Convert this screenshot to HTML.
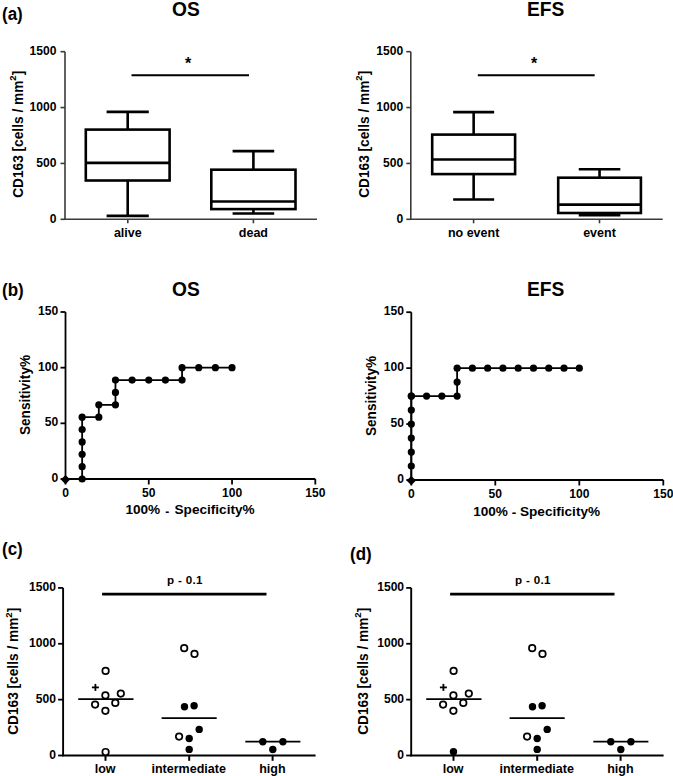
<!DOCTYPE html>
<html><head><meta charset="utf-8"><style>
html,body{margin:0;padding:0;background:#fff;}
body{width:673px;height:776px;overflow:hidden;}
svg{display:block;}
text{font-family:"Liberation Sans", sans-serif;font-weight:bold;fill:#000;}
</style></head><body>
<svg width="673" height="776" viewBox="0 0 673 776" stroke="#000" stroke-linecap="butt">
<g>
<text stroke="none" x="0" y="0" font-size="17" text-anchor="start" transform="translate(2,20.3) scale(1,1.06)" >(a)</text>
<g stroke="#3a3a3a">
<line x1="65.0" y1="51.7" x2="65.0" y2="220.10000000000002" stroke-width="1.6"/>
<line x1="60.5" y1="219.3" x2="65.0" y2="219.3" stroke-width="1.6"/>
<text stroke="none" x="56.4" y="222.9" font-size="12.1" text-anchor="end" >0</text>
<line x1="60.5" y1="163.43" x2="65.0" y2="163.43" stroke-width="1.6"/>
<text stroke="none" x="56.4" y="167.03" font-size="12.1" text-anchor="end" >500</text>
<line x1="60.5" y1="107.56000000000002" x2="65.0" y2="107.56000000000002" stroke-width="1.6"/>
<text stroke="none" x="56.4" y="111.16000000000001" font-size="12.1" text-anchor="end" >1000</text>
<line x1="60.5" y1="51.690000000000026" x2="65.0" y2="51.690000000000026" stroke-width="1.6"/>
<text stroke="none" x="56.4" y="55.29000000000003" font-size="12.1" text-anchor="end" >1500</text>
<line x1="64.2" y1="219.3" x2="317" y2="219.3" stroke-width="1.6"/>
<line x1="127.8" y1="219.3" x2="127.8" y2="223.3" stroke-width="1.6"/>
<line x1="253.4" y1="219.3" x2="253.4" y2="223.3" stroke-width="1.6"/>
</g>
<text stroke="none" x="127.8" y="236.5" font-size="12.5" text-anchor="middle" >alive</text>
<text stroke="none" x="253.4" y="236.5" font-size="12.5" text-anchor="middle" >dead</text>
<line x1="127.69999999999999" y1="111.9" x2="127.69999999999999" y2="129.6" stroke-width="2.6"/>
<line x1="127.69999999999999" y1="180.5" x2="127.69999999999999" y2="215.9" stroke-width="2.6"/>
<line x1="106.6" y1="111.9" x2="148.79999999999998" y2="111.9" stroke-width="2.6"/>
<line x1="106.6" y1="215.9" x2="148.79999999999998" y2="215.9" stroke-width="2.6"/>
<rect x="85.8" y="129.6" width="83.80" height="50.90" fill="none" stroke-width="2.6"/>
<line x1="85.8" y1="162.9" x2="169.6" y2="162.9" stroke-width="2.6"/>
<line x1="253.4" y1="151.1" x2="253.4" y2="169.7" stroke-width="2.6"/>
<line x1="253.4" y1="209.1" x2="253.4" y2="213.5" stroke-width="2.6"/>
<line x1="232.6" y1="151.1" x2="274.2" y2="151.1" stroke-width="2.6"/>
<line x1="232.6" y1="213.5" x2="274.2" y2="213.5" stroke-width="2.6"/>
<rect x="211.3" y="169.7" width="84.20" height="39.40" fill="none" stroke-width="2.6"/>
<line x1="211.3" y1="201.5" x2="295.5" y2="201.5" stroke-width="2.6"/>
<line x1="131.5" y1="75.2" x2="249" y2="75.2" stroke-width="2"/>
<text stroke="none" x="188" y="68.6" font-size="16" text-anchor="middle" >*</text>
<text stroke="none" x="0" y="0" font-size="13.7" text-anchor="middle" transform="translate(23,134.3) rotate(-90) scale(1,1.04)">CD163 [cells / mm<tspan font-size="9.6" dy="-6.3">2</tspan><tspan dy="6.3">]</tspan></text>
<text stroke="none" x="0" y="0" font-size="19.2" text-anchor="middle" transform="translate(185.9,16) scale(1,1.06)" >OS</text>
<g stroke="#3a3a3a">
<line x1="410.8" y1="51.7" x2="410.8" y2="220.10000000000002" stroke-width="1.6"/>
<line x1="406.3" y1="219.3" x2="410.8" y2="219.3" stroke-width="1.6"/>
<text stroke="none" x="403.2" y="222.9" font-size="12.1" text-anchor="end" >0</text>
<line x1="406.3" y1="163.43" x2="410.8" y2="163.43" stroke-width="1.6"/>
<text stroke="none" x="403.2" y="167.03" font-size="12.1" text-anchor="end" >500</text>
<line x1="406.3" y1="107.56000000000002" x2="410.8" y2="107.56000000000002" stroke-width="1.6"/>
<text stroke="none" x="403.2" y="111.16000000000001" font-size="12.1" text-anchor="end" >1000</text>
<line x1="406.3" y1="51.690000000000026" x2="410.8" y2="51.690000000000026" stroke-width="1.6"/>
<text stroke="none" x="403.2" y="55.29000000000003" font-size="12.1" text-anchor="end" >1500</text>
<line x1="410.0" y1="219.3" x2="662.7" y2="219.3" stroke-width="1.6"/>
<line x1="473.6" y1="219.3" x2="473.6" y2="223.3" stroke-width="1.6"/>
<line x1="599.5" y1="219.3" x2="599.5" y2="223.3" stroke-width="1.6"/>
</g>
<text stroke="none" x="473.6" y="236.5" font-size="12.5" text-anchor="middle" >no event</text>
<text stroke="none" x="599.5" y="236.5" font-size="12.5" text-anchor="middle" >event</text>
<line x1="473.65" y1="112.1" x2="473.65" y2="134.6" stroke-width="2.6"/>
<line x1="473.65" y1="174.1" x2="473.65" y2="199.5" stroke-width="2.6"/>
<line x1="453.15" y1="112.1" x2="494.15" y2="112.1" stroke-width="2.6"/>
<line x1="453.15" y1="199.5" x2="494.15" y2="199.5" stroke-width="2.6"/>
<rect x="432.2" y="134.6" width="82.90" height="39.50" fill="none" stroke-width="2.6"/>
<line x1="432.2" y1="159.5" x2="515.1" y2="159.5" stroke-width="2.6"/>
<line x1="599.55" y1="169.3" x2="599.55" y2="177.7" stroke-width="2.6"/>
<line x1="599.55" y1="213.0" x2="599.55" y2="215.2" stroke-width="2.6"/>
<line x1="578.75" y1="169.3" x2="620.3499999999999" y2="169.3" stroke-width="2.6"/>
<line x1="578.75" y1="215.2" x2="620.3499999999999" y2="215.2" stroke-width="2.6"/>
<rect x="558.2" y="177.7" width="82.70" height="35.30" fill="none" stroke-width="2.6"/>
<line x1="558.2" y1="204.6" x2="640.9" y2="204.6" stroke-width="2.6"/>
<line x1="477.8" y1="75.2" x2="594.7" y2="75.2" stroke-width="2"/>
<text stroke="none" x="534" y="68.6" font-size="16" text-anchor="middle" >*</text>
<text stroke="none" x="0" y="0" font-size="13.7" text-anchor="middle" transform="translate(369,134.3) rotate(-90) scale(1,1.04)">CD163 [cells / mm<tspan font-size="9.6" dy="-6.3">2</tspan><tspan dy="6.3">]</tspan></text>
<text stroke="none" x="0" y="0" font-size="19.2" text-anchor="middle" transform="translate(545.7,16) scale(1,1.06)" >EFS</text>
<text stroke="none" x="0" y="0" font-size="17" text-anchor="start" transform="translate(2,296.3) scale(1,1.06)" >(b)</text>
<line x1="65.5" y1="312" x2="65.5" y2="479.75" stroke-width="1.8"/>
<line x1="60.5" y1="479.0" x2="65.5" y2="479.0" stroke-width="1.8"/>
<text stroke="none" x="58.2" y="481.9" font-size="12.1" text-anchor="end" >0</text>
<line x1="60.5" y1="423.3333333333333" x2="65.5" y2="423.3333333333333" stroke-width="1.8"/>
<text stroke="none" x="58.2" y="426.2333333333333" font-size="12.1" text-anchor="end" >50</text>
<line x1="60.5" y1="367.6666666666667" x2="65.5" y2="367.6666666666667" stroke-width="1.8"/>
<text stroke="none" x="58.2" y="370.56666666666666" font-size="12.1" text-anchor="end" >100</text>
<line x1="60.5" y1="312.0" x2="65.5" y2="312.0" stroke-width="1.8"/>
<text stroke="none" x="58.2" y="314.9" font-size="12.1" text-anchor="end" >150</text>
<line x1="64.6" y1="479" x2="315.3" y2="479" stroke-width="1.8"/>
<line x1="65.5" y1="479" x2="65.5" y2="484.5" stroke-width="1.8"/>
<text stroke="none" x="65.5" y="497" font-size="12.1" text-anchor="middle" >0</text>
<line x1="148.76666666666665" y1="479" x2="148.76666666666665" y2="484.5" stroke-width="1.8"/>
<text stroke="none" x="148.76666666666665" y="497" font-size="12.1" text-anchor="middle" >50</text>
<line x1="232.03333333333333" y1="479" x2="232.03333333333333" y2="484.5" stroke-width="1.8"/>
<text stroke="none" x="232.03333333333333" y="497" font-size="12.1" text-anchor="middle" >100</text>
<line x1="315.3" y1="479" x2="315.3" y2="484.5" stroke-width="1.8"/>
<text stroke="none" x="315.3" y="497" font-size="12.1" text-anchor="middle" >150</text>
<path d="M65.50,479.00 L82.15,479.00 L82.15,466.63 L82.15,454.26 L82.15,441.89 L82.15,429.52 L82.15,417.15 L98.81,417.15 L98.81,404.78 L115.46,404.78 L115.46,392.41 L115.46,380.04 L132.11,380.04 L148.77,380.04 L165.42,380.04 L182.07,380.04 L182.07,367.67 L198.73,367.67 L215.38,367.67 L232.03,367.67" fill="none" stroke-width="1.8"/>
<path d="M65.50,474.90 L70.20,479.60 L65.50,484.30 L60.80,479.60 Z" fill="#000" stroke="none"/>
<circle cx="82.15" cy="479.00" r="3.6" fill="#000" stroke="none"/>
<circle cx="82.15" cy="466.63" r="3.6" fill="#000" stroke="none"/>
<circle cx="82.15" cy="454.26" r="3.6" fill="#000" stroke="none"/>
<circle cx="82.15" cy="441.89" r="3.6" fill="#000" stroke="none"/>
<circle cx="82.15" cy="429.52" r="3.6" fill="#000" stroke="none"/>
<circle cx="82.15" cy="417.15" r="3.6" fill="#000" stroke="none"/>
<circle cx="98.81" cy="417.15" r="3.6" fill="#000" stroke="none"/>
<circle cx="98.81" cy="404.78" r="3.6" fill="#000" stroke="none"/>
<circle cx="115.46" cy="404.78" r="3.6" fill="#000" stroke="none"/>
<circle cx="115.46" cy="392.41" r="3.6" fill="#000" stroke="none"/>
<circle cx="115.46" cy="380.04" r="3.6" fill="#000" stroke="none"/>
<circle cx="132.11" cy="380.04" r="3.6" fill="#000" stroke="none"/>
<circle cx="148.77" cy="380.04" r="3.6" fill="#000" stroke="none"/>
<circle cx="165.42" cy="380.04" r="3.6" fill="#000" stroke="none"/>
<circle cx="182.07" cy="380.04" r="3.6" fill="#000" stroke="none"/>
<circle cx="182.07" cy="367.67" r="3.6" fill="#000" stroke="none"/>
<circle cx="198.73" cy="367.67" r="3.6" fill="#000" stroke="none"/>
<circle cx="215.38" cy="367.67" r="3.6" fill="#000" stroke="none"/>
<circle cx="232.03" cy="367.67" r="3.6" fill="#000" stroke="none"/>
<text stroke="none" x="0" y="0" font-size="19.2" text-anchor="middle" transform="translate(185.9,296) scale(1,1.06)" >OS</text>
<text stroke="none" x="190.0" y="514.2" font-size="13.6" text-anchor="middle" >100% <tspan dy="2.2" dx="1.2" font-size="12">-</tspan><tspan dy="-2.2" dx="1.6"> Specificity%</tspan></text>
<text stroke="none" x="0" y="0" font-size="13.6" text-anchor="middle" transform="translate(30.0,395) rotate(-90) scale(1,1.04)">Sensitivity%</text>
<line x1="411.3" y1="312.2" x2="411.3" y2="480.75" stroke-width="1.8"/>
<line x1="406.3" y1="480.0" x2="411.3" y2="480.0" stroke-width="1.8"/>
<text stroke="none" x="404.0" y="482.9" font-size="12.1" text-anchor="end" >0</text>
<line x1="406.3" y1="424.06666666666666" x2="411.3" y2="424.06666666666666" stroke-width="1.8"/>
<text stroke="none" x="404.0" y="426.96666666666664" font-size="12.1" text-anchor="end" >50</text>
<line x1="406.3" y1="368.1333333333333" x2="411.3" y2="368.1333333333333" stroke-width="1.8"/>
<text stroke="none" x="404.0" y="371.0333333333333" font-size="12.1" text-anchor="end" >100</text>
<line x1="406.3" y1="312.2" x2="411.3" y2="312.2" stroke-width="1.8"/>
<text stroke="none" x="404.0" y="315.09999999999997" font-size="12.1" text-anchor="end" >150</text>
<line x1="410.40000000000003" y1="480" x2="663.3" y2="480" stroke-width="1.8"/>
<line x1="411.3" y1="480" x2="411.3" y2="485.5" stroke-width="1.8"/>
<text stroke="none" x="411.3" y="498" font-size="12.1" text-anchor="middle" >0</text>
<line x1="495.3" y1="480" x2="495.3" y2="485.5" stroke-width="1.8"/>
<text stroke="none" x="495.3" y="498" font-size="12.1" text-anchor="middle" >50</text>
<line x1="579.3" y1="480" x2="579.3" y2="485.5" stroke-width="1.8"/>
<text stroke="none" x="579.3" y="498" font-size="12.1" text-anchor="middle" >100</text>
<line x1="663.3" y1="480" x2="663.3" y2="485.5" stroke-width="1.8"/>
<text stroke="none" x="663.3" y="498" font-size="12.1" text-anchor="middle" >150</text>
<path d="M411.30,480.00 L411.30,466.02 L411.30,452.03 L411.30,438.05 L411.30,424.07 L411.30,410.08 L411.30,396.10 L411.30,396.10 L426.57,396.10 L441.85,396.10 L457.12,396.10 L457.12,382.12 L457.12,368.13 L472.39,368.13 L487.66,368.13 L502.94,368.13 L518.21,368.13 L533.48,368.13 L548.75,368.13 L564.03,368.13 L579.30,368.13" fill="none" stroke-width="1.8"/>
<path d="M411.30,475.90 L416.00,480.60 L411.30,485.30 L406.60,480.60 Z" fill="#000" stroke="none"/>
<circle cx="411.30" cy="466.02" r="3.6" fill="#000" stroke="none"/>
<circle cx="411.30" cy="452.03" r="3.6" fill="#000" stroke="none"/>
<circle cx="411.30" cy="438.05" r="3.6" fill="#000" stroke="none"/>
<circle cx="411.30" cy="424.07" r="3.6" fill="#000" stroke="none"/>
<circle cx="411.30" cy="410.08" r="3.6" fill="#000" stroke="none"/>
<circle cx="411.30" cy="396.10" r="3.6" fill="#000" stroke="none"/>
<circle cx="411.30" cy="396.10" r="3.6" fill="#000" stroke="none"/>
<circle cx="426.57" cy="396.10" r="3.6" fill="#000" stroke="none"/>
<circle cx="441.85" cy="396.10" r="3.6" fill="#000" stroke="none"/>
<circle cx="457.12" cy="396.10" r="3.6" fill="#000" stroke="none"/>
<circle cx="457.12" cy="382.12" r="3.6" fill="#000" stroke="none"/>
<circle cx="457.12" cy="368.13" r="3.6" fill="#000" stroke="none"/>
<circle cx="472.39" cy="368.13" r="3.6" fill="#000" stroke="none"/>
<circle cx="487.66" cy="368.13" r="3.6" fill="#000" stroke="none"/>
<circle cx="502.94" cy="368.13" r="3.6" fill="#000" stroke="none"/>
<circle cx="518.21" cy="368.13" r="3.6" fill="#000" stroke="none"/>
<circle cx="533.48" cy="368.13" r="3.6" fill="#000" stroke="none"/>
<circle cx="548.75" cy="368.13" r="3.6" fill="#000" stroke="none"/>
<circle cx="564.03" cy="368.13" r="3.6" fill="#000" stroke="none"/>
<circle cx="579.30" cy="368.13" r="3.6" fill="#000" stroke="none"/>
<text stroke="none" x="0" y="0" font-size="19.2" text-anchor="middle" transform="translate(545.7,296) scale(1,1.06)" >EFS</text>
<text stroke="none" x="536.6" y="515.6" font-size="13.6" text-anchor="middle" >100% <tspan dy="1.6" dx="0" font-size="13.6">-</tspan><tspan dy="-1.6" dx="0"> Specificity%</tspan></text>
<text stroke="none" x="0" y="0" font-size="13.6" text-anchor="middle" transform="translate(376,396) rotate(-90) scale(1,1.04)">Sensitivity%</text>
<line x1="63.1" y1="587.9" x2="63.1" y2="756.25" stroke-width="1.9"/>
<line x1="58.1" y1="755.5" x2="63.1" y2="755.5" stroke-width="1.8"/>
<text stroke="none" x="56.0" y="759.1" font-size="12.1" text-anchor="end" >0</text>
<line x1="58.1" y1="699.63" x2="63.1" y2="699.63" stroke-width="1.8"/>
<text stroke="none" x="56.0" y="703.23" font-size="12.1" text-anchor="end" >500</text>
<line x1="58.1" y1="643.76" x2="63.1" y2="643.76" stroke-width="1.8"/>
<text stroke="none" x="56.0" y="647.36" font-size="12.1" text-anchor="end" >1000</text>
<line x1="58.1" y1="587.89" x2="63.1" y2="587.89" stroke-width="1.8"/>
<text stroke="none" x="56.0" y="591.49" font-size="12.1" text-anchor="end" >1500</text>
<line x1="62.2" y1="755.5" x2="315.6" y2="755.5" stroke-width="1.8"/>
<line x1="105.5" y1="755.5" x2="105.5" y2="760.8" stroke-width="2"/>
<text stroke="none" x="105.2" y="772.6" font-size="12.5" text-anchor="middle" >low</text>
<line x1="189.2" y1="755.5" x2="189.2" y2="760.8" stroke-width="2"/>
<text stroke="none" x="188.7" y="772.6" font-size="12.5" text-anchor="middle" >intermediate</text>
<line x1="272.6" y1="755.5" x2="272.6" y2="760.8" stroke-width="2"/>
<text stroke="none" x="272.4" y="772.6" font-size="12.5" text-anchor="middle" >high</text>
<line x1="102.1" y1="594.2" x2="266.5" y2="594.2" stroke-width="2.8"/>
<text stroke="none" x="184.9" y="583.8" font-size="11.6" text-anchor="middle" letter-spacing="0.3">p - 0.1</text>
<text stroke="none" x="0" y="0" font-size="13.7" text-anchor="middle" transform="translate(18.2,671.3) rotate(-90) scale(1,1.04)">CD163 [cells / mm<tspan font-size="9.6" dy="-6.3">2</tspan><tspan dy="6.3">]</tspan></text>
<text stroke="none" x="0" y="0" font-size="17" text-anchor="start" transform="translate(2,555) scale(1,1.06)" >(c)</text>
<line x1="78.2" y1="699.2" x2="133.5" y2="699.2" stroke-width="1.8"/>
<line x1="161.6" y1="718.1" x2="216.7" y2="718.1" stroke-width="1.8"/>
<line x1="245.3" y1="741.7" x2="300.4" y2="741.7" stroke-width="1.8"/>
<circle cx="105.60" cy="670.90" r="3.25" fill="#fff" stroke-width="1.7"/>
<circle cx="105.40" cy="695.40" r="3.25" fill="#fff" stroke-width="1.7"/>
<circle cx="120.80" cy="693.60" r="3.25" fill="#fff" stroke-width="1.7"/>
<circle cx="95.10" cy="704.60" r="3.25" fill="#fff" stroke-width="1.7"/>
<circle cx="115.30" cy="702.90" r="3.25" fill="#fff" stroke-width="1.7"/>
<circle cx="105.40" cy="710.80" r="3.25" fill="#fff" stroke-width="1.7"/>
<circle cx="105.60" cy="752.00" r="3.25" fill="#fff" stroke-width="1.7"/>
<line x1="91.9" y1="687.4" x2="98.9" y2="687.4" stroke-width="1.8"/>
<line x1="95.4" y1="683.9" x2="95.4" y2="690.9" stroke-width="1.8"/>
<circle cx="184.20" cy="648.20" r="3.25" fill="#fff" stroke-width="1.7"/>
<circle cx="194.50" cy="653.90" r="3.25" fill="#fff" stroke-width="1.7"/>
<circle cx="179.10" cy="736.60" r="3.25" fill="#fff" stroke-width="1.7"/>
<circle cx="184.50" cy="706.70" r="3.7" fill="#000" stroke="none"/>
<circle cx="194.10" cy="705.80" r="3.7" fill="#000" stroke="none"/>
<circle cx="199.20" cy="729.40" r="3.7" fill="#000" stroke="none"/>
<circle cx="189.20" cy="738.50" r="3.7" fill="#000" stroke="none"/>
<circle cx="189.20" cy="749.40" r="3.7" fill="#000" stroke="none"/>
<circle cx="262.80" cy="741.70" r="3.7" fill="#000" stroke="none"/>
<circle cx="282.90" cy="741.70" r="3.7" fill="#000" stroke="none"/>
<circle cx="272.80" cy="749.50" r="3.7" fill="#000" stroke="none"/>
<line x1="411.20000000000005" y1="587.9" x2="411.20000000000005" y2="756.25" stroke-width="1.9"/>
<line x1="406.20000000000005" y1="755.5" x2="411.20000000000005" y2="755.5" stroke-width="1.8"/>
<text stroke="none" x="404.1" y="759.1" font-size="12.1" text-anchor="end" >0</text>
<line x1="406.20000000000005" y1="699.63" x2="411.20000000000005" y2="699.63" stroke-width="1.8"/>
<text stroke="none" x="404.1" y="703.23" font-size="12.1" text-anchor="end" >500</text>
<line x1="406.20000000000005" y1="643.76" x2="411.20000000000005" y2="643.76" stroke-width="1.8"/>
<text stroke="none" x="404.1" y="647.36" font-size="12.1" text-anchor="end" >1000</text>
<line x1="406.20000000000005" y1="587.89" x2="411.20000000000005" y2="587.89" stroke-width="1.8"/>
<text stroke="none" x="404.1" y="591.49" font-size="12.1" text-anchor="end" >1500</text>
<line x1="410.30000000000007" y1="755.5" x2="663.6" y2="755.5" stroke-width="1.8"/>
<line x1="453.5" y1="755.5" x2="453.5" y2="760.8" stroke-width="2"/>
<text stroke="none" x="453.2" y="772.6" font-size="12.5" text-anchor="middle" >low</text>
<line x1="537.2" y1="755.5" x2="537.2" y2="760.8" stroke-width="2"/>
<text stroke="none" x="536.7" y="772.6" font-size="12.5" text-anchor="middle" >intermediate</text>
<line x1="620.6" y1="755.5" x2="620.6" y2="760.8" stroke-width="2"/>
<text stroke="none" x="620.4" y="772.6" font-size="12.5" text-anchor="middle" >high</text>
<line x1="450.1" y1="594.2" x2="614.5" y2="594.2" stroke-width="2.8"/>
<text stroke="none" x="532.9" y="583.8" font-size="11.6" text-anchor="middle" letter-spacing="0.3">p - 0.1</text>
<text stroke="none" x="0" y="0" font-size="13.7" text-anchor="middle" transform="translate(367.8,671.3) rotate(-90) scale(1,1.04)">CD163 [cells / mm<tspan font-size="9.6" dy="-6.3">2</tspan><tspan dy="6.3">]</tspan></text>
<text stroke="none" x="0" y="0" font-size="17" text-anchor="start" transform="translate(350,560) scale(1,1.06)" >(d)</text>
<line x1="426.2" y1="699.2" x2="481.5" y2="699.2" stroke-width="1.8"/>
<line x1="509.6" y1="718.1" x2="564.7" y2="718.1" stroke-width="1.8"/>
<line x1="593.3" y1="741.7" x2="648.4" y2="741.7" stroke-width="1.8"/>
<circle cx="453.60" cy="670.90" r="3.25" fill="#fff" stroke-width="1.7"/>
<circle cx="453.40" cy="695.40" r="3.25" fill="#fff" stroke-width="1.7"/>
<circle cx="468.80" cy="693.60" r="3.25" fill="#fff" stroke-width="1.7"/>
<circle cx="443.10" cy="704.60" r="3.25" fill="#fff" stroke-width="1.7"/>
<circle cx="463.30" cy="702.90" r="3.25" fill="#fff" stroke-width="1.7"/>
<circle cx="453.40" cy="710.80" r="3.25" fill="#fff" stroke-width="1.7"/>
<circle cx="453.50" cy="751.80" r="3.7" fill="#000" stroke="none"/>
<line x1="439.9" y1="687.4" x2="446.9" y2="687.4" stroke-width="1.8"/>
<line x1="443.4" y1="683.9" x2="443.4" y2="690.9" stroke-width="1.8"/>
<circle cx="532.20" cy="648.20" r="3.25" fill="#fff" stroke-width="1.7"/>
<circle cx="542.50" cy="653.90" r="3.25" fill="#fff" stroke-width="1.7"/>
<circle cx="527.10" cy="736.60" r="3.25" fill="#fff" stroke-width="1.7"/>
<circle cx="532.50" cy="706.70" r="3.7" fill="#000" stroke="none"/>
<circle cx="542.10" cy="705.80" r="3.7" fill="#000" stroke="none"/>
<circle cx="547.20" cy="729.40" r="3.7" fill="#000" stroke="none"/>
<circle cx="537.20" cy="738.50" r="3.7" fill="#000" stroke="none"/>
<circle cx="537.20" cy="749.40" r="3.7" fill="#000" stroke="none"/>
<circle cx="610.80" cy="741.70" r="3.7" fill="#000" stroke="none"/>
<circle cx="630.90" cy="741.70" r="3.7" fill="#000" stroke="none"/>
<circle cx="620.80" cy="749.50" r="3.7" fill="#000" stroke="none"/>
</g>
</svg>
</body></html>
